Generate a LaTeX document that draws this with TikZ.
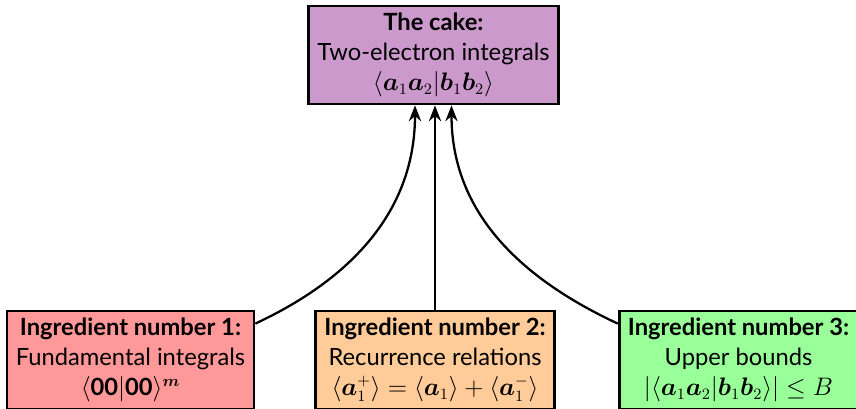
\documentclass[tikz,border=0pt]{standalone}
\usepackage{amsmath}
\usepackage{bm}
\usepackage{fontspec}
\setmainfont{Lato}
\usepackage{tikz}
\usetikzlibrary{arrows.meta,positioning}
\definecolor{cake}{HTML}{CC99CC}
\definecolor{ingone}{HTML}{FF9999}
\definecolor{ingtwo}{HTML}{FFCC99}
\definecolor{ingthree}{HTML}{99FF99}
\tikzset{
  box/.style={draw=black,line width=1.6pt,align=center,inner xsep=5pt,inner ysep=2pt,minimum height=1.96cm},
  feed/.style={line width=1.3pt,-{Stealth[length=9pt,width=7pt]}}
}
\begin{document}
\begin{tikzpicture}[x=1cm,y=1cm,font=\fontsize{13.5}{17}\selectfont]
\useasboundingbox (0,0) rectangle (17.12,8.16);
% the cake on top
\node[box,fill=cake] (cake) at (8.67,7.06) {\textbf{The cake:}\\Two-electron integrals\\$\langle\bm{a}_1\bm{a}_2|\bm{b}_1\bm{b}_2\rangle$};
% the three ingredients below
\node[box,fill=ingone] (ing1) at (2.61,0.96) {\textbf{Ingredient number 1:}\\Fundamental integrals\\$\langle\textbf{00}|\textbf{00}\rangle^{\bm{m}}$};
\node[box,fill=ingtwo] (ing2) at (8.70,0.96) {\textbf{Ingredient number 2:}\\Recurrence relations\\$\langle\bm{a}_1^+\rangle = \langle\bm{a}_1\rangle + \langle\bm{a}_1^-\rangle$};
\node[box,fill=ingthree] (ing3) at (14.77,0.96) {\textbf{Ingredient number 3:}\\Upper bounds\\$|\langle\bm{a}_1\bm{a}_2|\bm{b}_1\bm{b}_2\rangle| \leq B$};
% what goes into the cake
\draw[feed] ([yshift=-0.28cm]ing1.north east) to[out=25,in=-90] ([xshift=-0.37cm]cake.south);
\draw[feed] (ing2.north) -- (ing2.north |- cake.south);
\draw[feed] ([yshift=-0.28cm]ing3.north west) to[out=155,in=-90] ([xshift=0.36cm]cake.south);
\end{tikzpicture}
\end{document}
